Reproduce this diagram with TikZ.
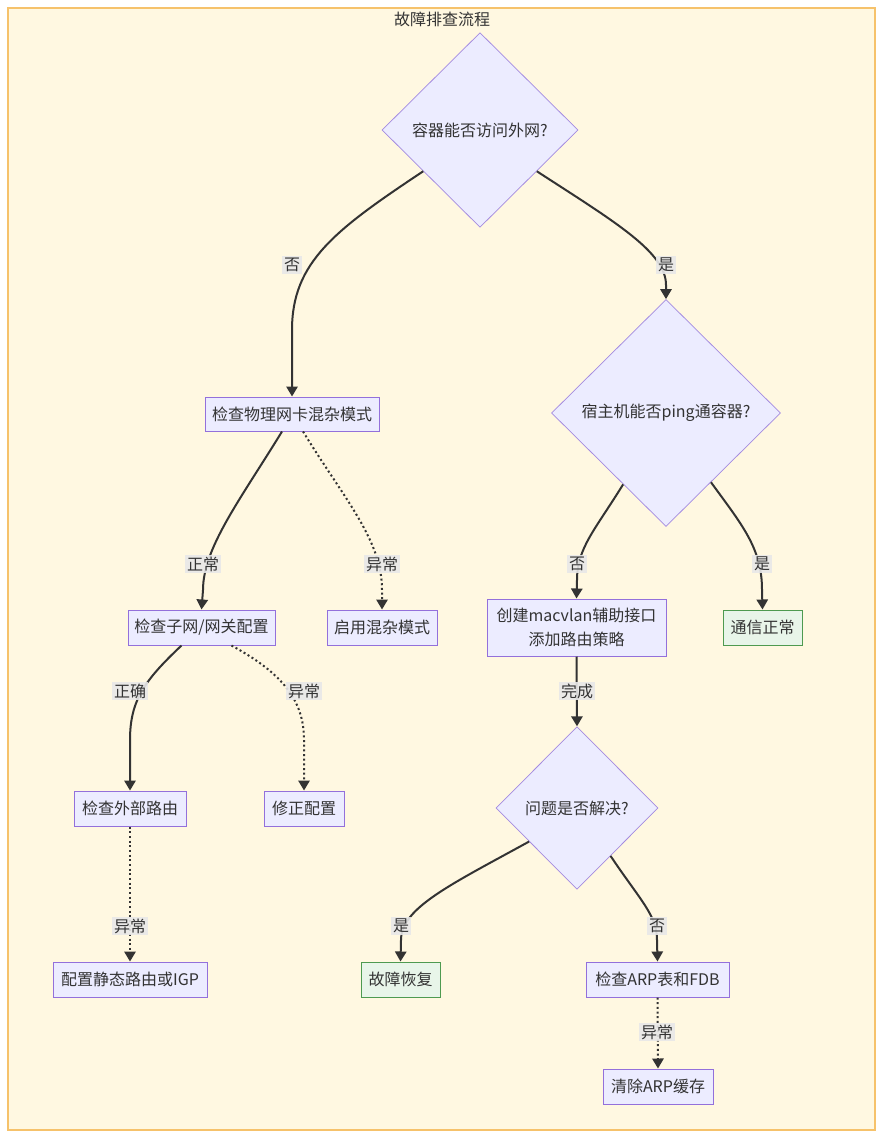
\documentclass[tikz,border=0pt]{standalone}
\usepackage{fontspec}
\setmainfont{Noto Sans CJK SC}
\usetikzlibrary{shapes.geometric,arrows.meta,calc}
\definecolor{nodefill}{HTML}{ECECFF}
\definecolor{nodestroke}{HTML}{9370DB}
\definecolor{decstroke}{HTML}{A48BE0}
\definecolor{okfill}{HTML}{E8F5E9}
\definecolor{okstroke}{HTML}{4E9A50}
\definecolor{clfill}{HTML}{FFF8E1}
\definecolor{clstroke}{HTML}{F6C26B}
\definecolor{edgecol}{HTML}{333333}
\definecolor{lblbg}{HTML}{E8E8E8}
\definecolor{txt}{HTML}{333333}
\begin{document}
\begin{tikzpicture}[x=0.75pt,y=-0.75pt,
  every node/.style={font=\fontsize{12}{18}\selectfont, text=txt},
  proc/.style={rectangle, draw=nodestroke, fill=nodefill, line width=0.75pt, minimum height=26.25pt, inner sep=0pt, align=center},
  okbox/.style={proc, draw=okstroke, fill=okfill},
  dec/.style={diamond, draw=decstroke, fill=nodefill, line width=0.55pt, inner sep=0pt, aspect=1},
  lbl/.style={fill=lblbg, inner sep=1.5pt, fill opacity=0.9, text opacity=1},
  link/.style={draw=edgecol, line width=1.5pt, -{Triangle[length=7.5pt,width=8.5pt]}},
  dotlink/.style={link, dash pattern=on 1.5pt off 2pt},
]
\useasboundingbox (0,0) rectangle (883,1137);
\fill[white] (0,0) rectangle (883,1137);
\draw[draw=clstroke, fill=clfill, line width=1.1pt] (8,8) rectangle (875,1130);
\node (title) at (442,19) {故障排查流程};

% nodes
\node[dec, minimum width=147pt, minimum height=146pt] (d1) at (480,130) {容器能否访问外网?};
\node[proc, minimum width=130.5pt, minimum height=25.5pt] (phys) at (292,414) {检查物理网卡混杂模式};
\node[dec, minimum width=171.75pt, minimum height=170.25pt] (d2) at (666,413) {宿主机能否ping通容器?};
\node[proc, minimum width=110.25pt] (subnet) at (201.5,627.5) {检查子网/网关配置};
\node[proc, minimum width=82.5pt] (prom) at (382,627.5) {启用混杂模式};
\node[proc, minimum width=134.25pt, minimum height=42.75pt] (mac) at (576.5,627.5) {创建macvlan辅助接口\\添加路由策略};
\node[okbox, minimum width=59.25pt] (ok) at (762.5,627.5) {通信正常};
\node[dec, minimum width=121.5pt, minimum height=122pt] (d3) at (577,808) {问题是否解决?};
\node[proc, minimum width=84pt] (ext) at (130,808.5) {检查外部路由};
\node[proc, minimum width=60pt] (fix) at (304,808.5) {修正配置};
\node[proc, minimum width=115.5pt] (static) at (130,979.5) {配置静态路由或IGP};
\node[okbox, minimum width=59.25pt] (rec) at (400.5,979.5) {故障恢复};
\node[proc, minimum width=107.25pt] (arp) at (657.5,979.5) {检查ARP表和FDB};
\node[proc, minimum width=82.5pt] (clear) at (658,1086.5) {清除ARP缓存};

% edges
\draw[link] (d1.216) .. controls (335,230) and (292,262) .. (292,330) -- (phys.north);
\draw[link] (d1.324) .. controls (615,222) and (666,252) .. (666,285) -- (d2.north);
\draw[link] ($(phys.south)+(-10,0)$) .. controls (240,500) and (203,548) .. (203,590) -- (subnet.north);
\draw[dotlink] ($(phys.south)+(11,0)$) .. controls (345,500) and (382,540) .. (382,590) -- (prom.north);
\draw[link] (d2.239) .. controls (595,530) and (577,548) .. (577,580) -- (mac.north);
\draw[link] (d2.303) .. controls (742,525) and (762,548) .. (762,590) -- (ok.north);
\draw[link] ($(subnet.south)+(-20,0)$) .. controls (145,680) and (130,700) .. (130,740) -- (ext.north);
\draw[dotlink] ($(subnet.south)+(30,0)$) .. controls (282,673) and (304,700) .. (304,740) -- (fix.north);
\draw[link] (mac.south) -- (d3.north);
\draw[dotlink] (ext.south) -- (static.north);
\draw[link] (d3.215) .. controls (450,885) and (401,908) .. (401,940) -- (rec.north);
\draw[link] (d3.305) .. controls (640,900) and (657,915) .. (657,940) -- (arp.north);
\draw[dotlink] (arp.south) -- (clear.north);

% edge labels
\node[lbl] (l1) at (292,265) {否};
\node[lbl] (l2) at (666,265) {是};
\node[lbl] (l3) at (203,564) {正常};
\node[lbl] (l4) at (382,564) {异常};
\node[lbl] (l5) at (577,564) {否};
\node[lbl] (l6) at (762,564) {是};
\node[lbl] (l7) at (130,691) {正确};
\node[lbl] (l8) at (304,691) {异常};
\node[lbl] (l9) at (577,691) {完成};
\node[lbl] (l10) at (130,926) {异常};
\node[lbl] (l11) at (401,926) {是};
\node[lbl] (l12) at (657,926) {否};
\node[lbl] (l13) at (657,1032) {异常};
\end{tikzpicture}
\end{document}
